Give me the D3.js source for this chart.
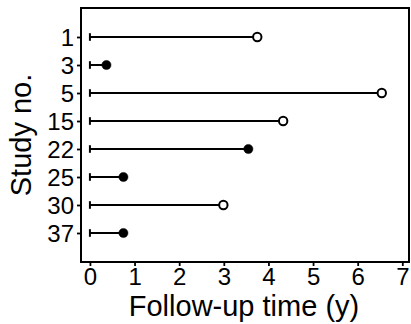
<!DOCTYPE html>
<html><head><meta charset="utf-8">
<script src="https://cdn.jsdelivr.net/npm/d3@7"></script>
<style>
html,body{margin:0;padding:0;background:#fff;}
text{font-family:"Liberation Sans","DejaVu Sans",sans-serif;fill:#000;}
</style></head>
<body>
<svg id="chart" width="411" height="324"></svg>
<script>
// Study numbers, follow-up duration in years, and whether follow-up ended in an event
const studies = ["1", "3", "5", "15", "22", "25", "30", "37"];
const followUp = [3.75, 0.37, 6.54, 4.33, 3.55, 0.75, 2.99, 0.75];
const event = [false, true, false, false, true, true, false, true];
const xTicks = [0, 1, 2, 3, 4, 5, 6, 7];

const svg = d3.select("#chart");
const m = {left: 81, top: 8, right: 2, bottom: 62};
const W = 411, H = 324;

const x = d3.scaleLinear().domain([-0.2, 7.15]).range([m.left, W - m.right]);
const y = d3.scaleLinear().domain([-1.036, studies.length - 1 + 1.036]).range([m.top, H - m.bottom]);

const g = svg.append("g");

// Axes
const xAxis = d3.axisBottom(x).tickValues(xTicks).tickSize(4).tickPadding(2).tickFormat(d3.format("d"));
const gx = g.append("g").attr("transform", `translate(0,${H - m.bottom})`).call(xAxis);
gx.select(".domain").remove();
gx.selectAll("line").attr("stroke", "#000").attr("stroke-width", 1.8);
gx.selectAll("text").attr("font-size", 24).attr("y", 23).attr("dy", 0);

const yAxis = d3.axisLeft(y).tickValues(d3.range(studies.length)).tickFormat(i => studies[i]).tickSize(4).tickPadding(3);
const gy = g.append("g").attr("transform", `translate(${m.left},0)`).call(yAxis);
gy.select(".domain").remove();
gy.selectAll("line").attr("stroke", "#000").attr("stroke-width", 1.8);
gy.selectAll("text").attr("font-size", 24).attr("dy", "0.36em");

// Follow-up lines with start bars and end markers
const rows = g.append("g").selectAll("g").data(followUp).join("g");
rows.append("line")
  .attr("x1", x(0)).attr("x2", d => x(d))
  .attr("y1", (d, i) => y(i)).attr("y2", (d, i) => y(i))
  .attr("stroke", "#000").attr("stroke-width", 2);
rows.append("line")
  .attr("x1", x(0)).attr("x2", x(0))
  .attr("y1", (d, i) => y(i) - 3.8).attr("y2", (d, i) => y(i) + 3.8)
  .attr("stroke", "#000").attr("stroke-width", 2);
rows.append("circle")
  .attr("cx", d => x(d)).attr("cy", (d, i) => y(i))
  .attr("r", (d, i) => event[i] ? 4.6 : 4.2)
  .attr("fill", (d, i) => event[i] ? "#000" : "#fff")
  .attr("stroke", "#000").attr("stroke-width", (d, i) => event[i] ? 0.5 : 2);

// Frame
g.append("rect")
  .attr("x", m.left).attr("y", m.top)
  .attr("width", W - m.right - m.left).attr("height", H - m.bottom - m.top)
  .attr("fill", "none").attr("stroke", "#000").attr("stroke-width", 2);

// Axis titles
g.append("text").attr("x", (m.left + W - m.right) / 2 - 1).attr("y", 316)
  .attr("text-anchor", "middle").attr("font-size", 29).text("Follow-up time (y)");
g.append("text").attr("transform", `translate(31,${(m.top + H - m.bottom) / 2}) rotate(-90)`)
  .attr("text-anchor", "middle").attr("font-size", 29).text("Study no.");
</script>
</body></html>
